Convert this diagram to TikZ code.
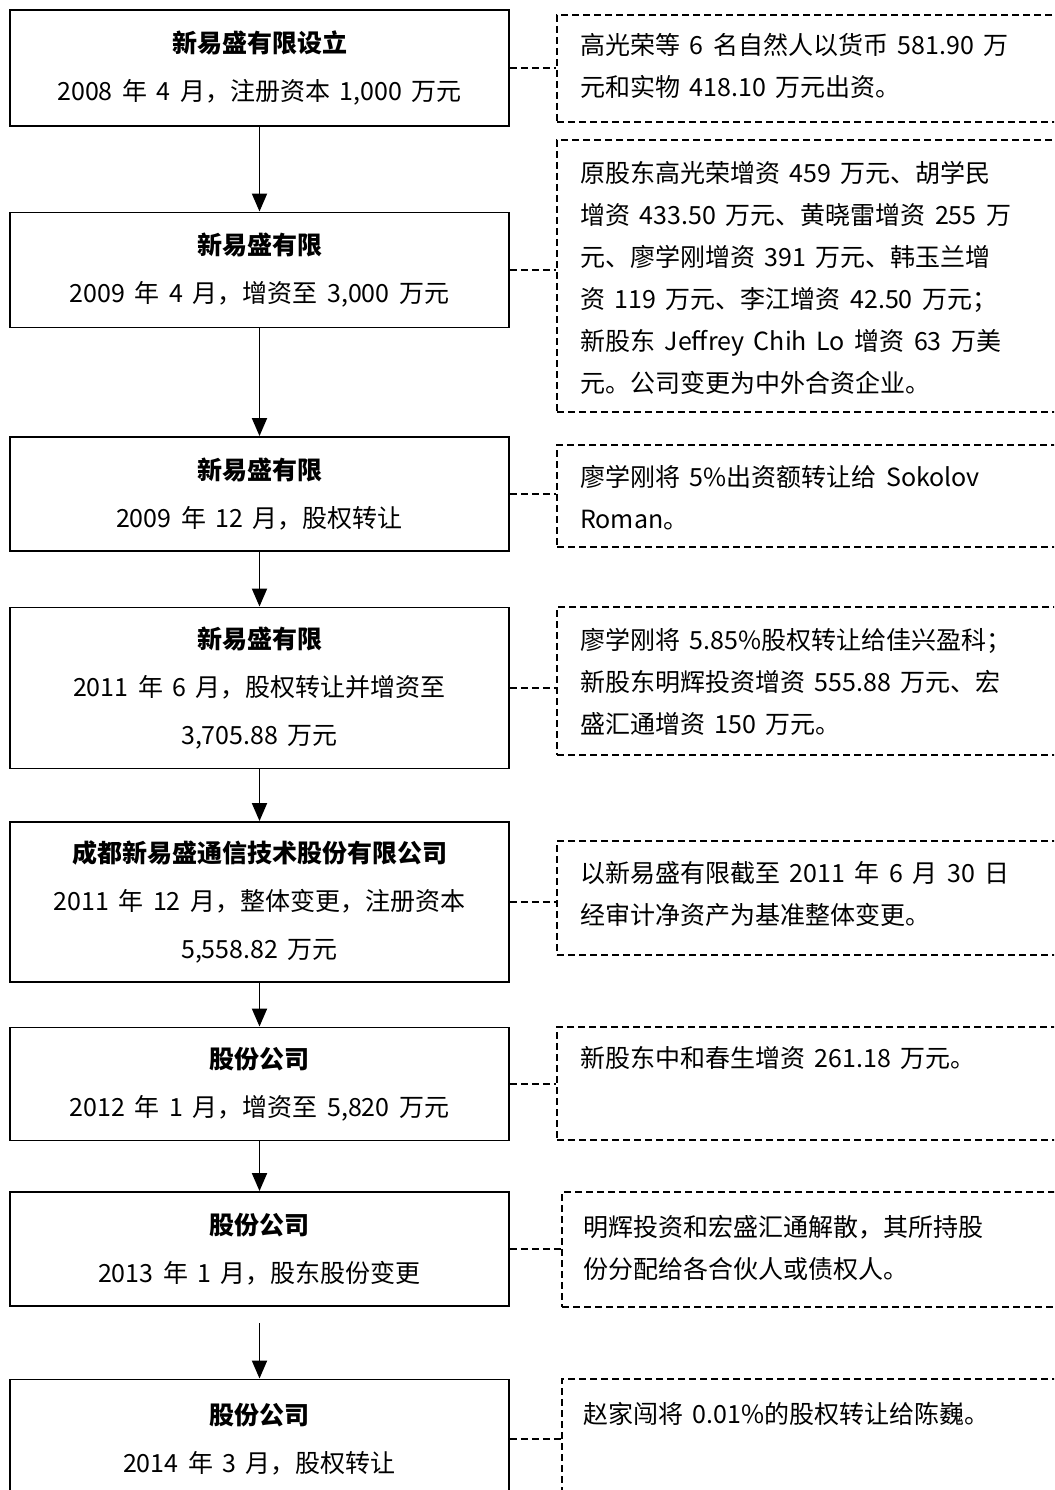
\documentclass[tikz,border=0pt]{standalone}
\usepackage{fontspec}
\setmainfont{Noto Sans CJK SC}[WordSpace=1.7]
\usetikzlibrary{arrows.meta}
\begin{document}
\begin{tikzpicture}[x=1pt,y=-1pt,
  mainbox/.style={draw, line width=1.9pt, minimum width=499pt, inner sep=0pt, align=center, font=\fontsize{25}{48}\selectfont},
  notebox/.style={draw, line width=1.8pt, dash pattern=on 7pt off 4pt, inner sep=0pt, minimum width=513pt},
  notetext/.style={anchor=north west, inner sep=0pt, align=left, font=\fontsize{25}{42}\selectfont},
  link/.style={line width=2pt, dash pattern=on 7pt off 4pt},
  flow/.style={line width=1.9pt, -{Triangle[width=15pt,length=18pt]}}]
\useasboundingbox (0,0) rectangle (1054,1490);
\clip (0,0) rectangle (1054,1490);

% left boxes
\node[mainbox, minimum height=116pt] (b1) at (259.5,68) {\textbf{新易盛有限设立}\\2008 年 4 月，注册资本 1,000 万元};
\node[mainbox, minimum height=115pt] (b2) at (259.5,270) {\textbf{新易盛有限}\\2009 年 4 月，增资至 3,000 万元};
\node[mainbox, minimum height=114pt] (b3) at (259.5,494) {\textbf{新易盛有限}\\2009 年 12 月，股权转让};
\node[mainbox, minimum height=161pt] (b4) at (259.5,688) {\textbf{新易盛有限}\\2011 年 6 月，股权转让并增资至\\3,705.88 万元};
\node[mainbox, minimum height=160pt] (b5) at (259.5,902) {\textbf{成都新易盛通信技术股份有限公司}\\2011 年 12 月，整体变更，注册资本\\5,558.82 万元};
\node[mainbox, minimum height=113pt] (b6) at (259.5,1084) {\textbf{股份公司}\\2012 年 1 月，增资至 5,820 万元};
\node[mainbox, minimum height=114pt] (b7) at (259.5,1249) {\textbf{股份公司}\\2013 年 1 月，股东股份变更};
\node[mainbox, minimum height=119pt] (b8) at (259.5,1439) {\textbf{股份公司}\\2014 年 3 月，股权转让};

% right dashed boxes
\node[notebox, minimum height=107pt] (r1) at (813.5,68.5) {};
\node[notebox, minimum height=272pt] (r2) at (813.5,276) {};
\node[notebox, minimum height=102pt] (r3) at (813.5,496) {};
\node[notebox, minimum height=148pt] (r4) at (813.5,681) {};
\node[notebox, minimum height=114pt] (r5) at (813.5,898) {};
\node[notebox, minimum height=113pt] (r6) at (813.5,1083.5) {};
\node[notebox, minimum height=115pt, minimum width=508pt] (r7) at (816,1249.5) {};
\node[notebox, minimum height=141pt, minimum width=508pt] (r8) at (816,1449.5) {};

% texts in dashed boxes
\node[notetext] (t1) at (580,33) {高光荣等 6 名自然人以货币 581.90 万\\元和实物 418.10 万元出资。};
\node[notetext] (t2) at (580,161) {原股东高光荣增资 459 万元、胡学民\\增资 433.50 万元、黄晓雷增资 255 万\\元、廖学刚增资 391 万元、韩玉兰增\\资 119 万元、李江增资 42.50 万元；\\新股东 Jeffrey Chih Lo 增资 63 万美\\元。公司变更为中外合资企业。};
\node[notetext] (t3) at (580,465) {廖学刚将 5\%出资额转让给 Sokolov\\Roman。};
\node[notetext] (t4) at (580,628) {廖学刚将 5.85\%股权转让给佳兴盈科；\\新股东明辉投资增资 555.88 万元、宏\\盛汇通增资 150 万元。};
\node[notetext] (t5) at (580,861) {以新易盛有限截至 2011 年 6 月 30 日\\经审计净资产为基准整体变更。};
\node[notetext] (t6) at (580,1046) {新股东中和春生增资 261.18 万元。};
\node[notetext] (t7) at (583,1215) {明辉投资和宏盛汇通解散，其所持股\\份分配给各合伙人或债权人。};
\node[notetext] (t8) at (583,1402) {赵家闯将 0.01\%的股权转让给陈巍。};

% dashed links
\draw[link] (b1.east) -- (b1.east -| r1.west);
\draw[link] (b2.east) -- (b2.east -| r2.west);
\draw[link] (b3.east) -- (b3.east -| r3.west);
\draw[link] (b4.east) -- (b4.east -| r4.west);
\draw[link] (b5.east) -- (b5.east -| r5.west);
\draw[link] (b6.east) -- (b6.east -| r6.west);
\draw[link] (b7.east) -- (b7.east -| r7.west);
\draw[link] (b8.east) -- (b8.east -| r8.west);

% flow arrows
\coordinate (a7) at (259.5,1323);
\draw[flow] (b1.south) -- (b2.north);
\draw[flow] (b2.south) -- (b3.north);
\draw[flow] (b3.south) -- (b4.north);
\draw[flow] (b4.south) -- (b5.north);
\draw[flow] (b5.south) -- (b6.north);
\draw[flow] (b6.south) -- (b7.north);
\draw[flow] (a7) -- (b8.north);
\end{tikzpicture}
\end{document}
